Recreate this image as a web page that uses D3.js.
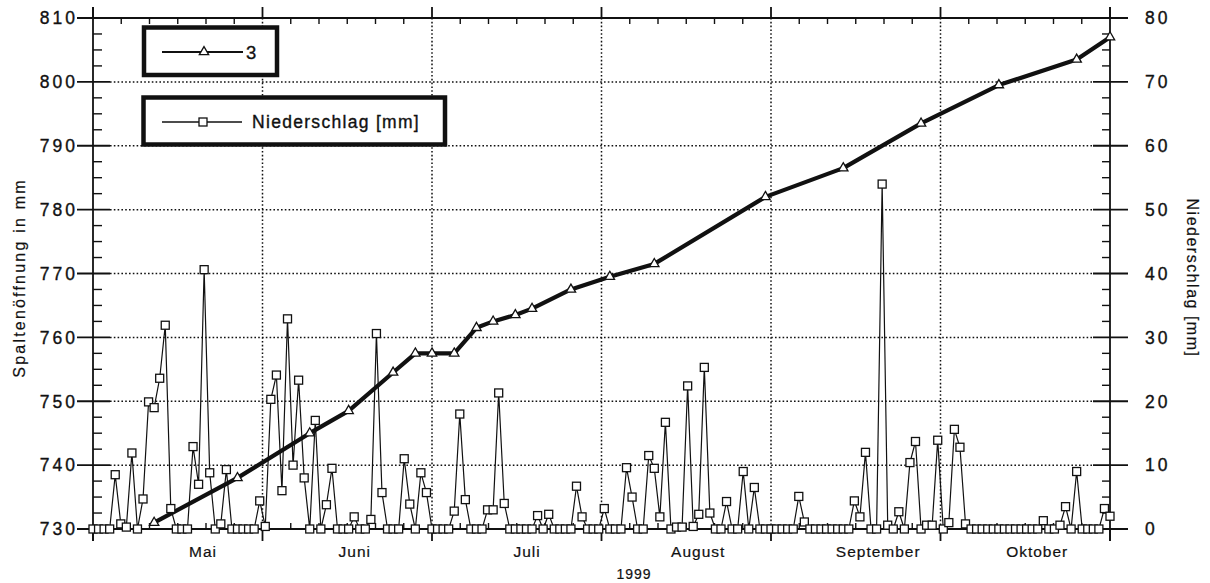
<!DOCTYPE html>
<html><head><meta charset="utf-8">
<script src="https://cdn.jsdelivr.net/npm/d3@7"></script>
<style>
body{margin:0;background:#fff}
svg{display:block}
text{font-family:"Liberation Sans",Arial,Helvetica,sans-serif;fill:#111;stroke:#111;stroke-width:0.35px}
</style>
</head><body>
<svg id="c" width="1210" height="583"></svg>
<script>
// ---------- DATA ----------
const monthNames = ["Mai","Juni","Juli","August","September","Oktober"];
const monthLabelDays = [19.8, 47.1, 78.1, 108.9, 141.3, 169.9];   // label anchor (day index since 1 May 1999)
const majorTickDays = [0, 30.5, 61, 91.5, 122, 152.5, 183];
const leftTicks = [730, 740, 750, 760, 770, 780, 790, 800, 810];
const rightTicks = [0, 10, 20, 30, 40, 50, 60, 70, 80];
const yearLabel = "1999";

// Spaltenöffnung (series "3"), day index since 1 May 1999
const growthDays   = [11, 26, 39, 46, 54, 58, 61, 65, 69, 72, 76, 79, 86, 93, 101, 121, 135, 149, 163, 177, 183];
const growthValues = [731, 738, 745, 748.5, 754.5, 757.5, 757.5, 757.5, 761.5, 762.5, 763.5, 764.5, 767.5, 769.5, 771.5, 782, 786.5, 793.5, 799.5, 803.5, 807];

// Niederschlag [mm], daily from 1 May 1999 (index 0) to 31 Oct 1999 (index 183)
const rainValues = [
  0, 0, 0, 0, 8.5, 0.8, 0.3, 11.9, 0, 4.7,
  19.9, 19.0, 23.6, 31.9, 3.2, 0, 0, 0, 12.9, 7.0,
  40.6, 8.8, 0, 0.8, 9.3, 0, 0, 0, 0, 0,
  4.4, 0.4, 20.3, 24.1, 6.0, 32.9, 10.0, 23.3, 8.0, 0,
  17.0, 0, 3.8, 9.5, 0, 0, 0, 1.9, 0, 0,
  1.5, 30.6, 5.7, 0, 0, 0, 11.0, 3.9, 0, 8.8,
  5.7, 0, 0, 0, 0, 2.8, 18.0, 4.6, 0, 0,
  0, 3.0, 3.0, 21.3, 4.0, 0, 0, 0, 0, 0,
  2.1, 0, 2.3, 0, 0, 0, 0, 6.7, 1.9, 0,
  0, 0, 3.2, 0, 0, 0, 9.6, 5.0, 0, 0,
  11.5, 9.5, 1.9, 16.7, 0, 0.3, 0.3, 22.4, 0.4, 2.3,
  25.3, 2.5, 0, 0, 4.3, 0, 0, 9.0, 0, 6.5,
  0, 0, 0, 0, 0, 0, 0, 5.1, 1.1, 0,
  0, 0, 0, 0, 0, 0, 0, 4.4, 1.9, 12.0,
  0, 0, 54.0, 0.6, 0, 2.7, 0, 10.4, 13.7, 0,
  0.6, 0.6, 13.9, 0, 1.0, 15.6, 12.8, 0.8, 0, 0,
  0, 0, 0, 0, 0, 0, 0, 0, 0, 0,
  0, 1.3, 0, 0, 0.6, 3.5, 0, 9.0, 0, 0,
  0, 0, 3.2, 2.0
];

const legendLabels = ["3", "Niederschlag  [mm]"];
const leftTitle = "Spaltenöffnung in mm";
const rightTitle = "Niederschlag [mm]";

// ---------- LAYOUT ----------
const L = 93, R = 1110, T = 18, B = 529;
const svg = d3.select("#c");
const x  = d3.scaleLinear().domain([0, 183]).range([L, R]);
const yL = d3.scaleLinear().domain([730, 810]).range([B, T]);
const yR = d3.scaleLinear().domain([0, 80]).range([B, T]);
const ink = "#111";

// grid
const grid = svg.append("g").attr("stroke", "#111").attr("stroke-width", 1.5)
  .attr("stroke-dasharray", "1.6,2.2");
grid.selectAll("line.h").data(leftTicks.filter(v => v > 730 && v < 810)).join("line")
  .attr("x1", L + 17).attr("x2", R - 17).attr("y1", d => yL(d)).attr("y2", d => yL(d));
grid.selectAll("line.v").data(majorTickDays.slice(1, -1)).join("line")
  .attr("x1", d => x(d)).attr("x2", d => x(d)).attr("y1", T).attr("y2", B);

// frame & ticks
const ax = svg.append("g").attr("stroke", ink).attr("stroke-width", 1.8);
ax.append("line").attr("x1", L).attr("x2", L).attr("y1", T - 11).attr("y2", B + 12);
ax.append("line").attr("x1", R).attr("x2", R).attr("y1", T - 11).attr("y2", B + 12);
ax.append("line").attr("x1", L).attr("x2", R).attr("y1", T).attr("y2", T);
ax.append("line").attr("x1", L).attr("x2", R).attr("y1", B).attr("y2", B);

// y major ticks
ax.selectAll("line.yl").data(leftTicks).join("line")
  .attr("x1", L - 16).attr("x2", L + 17).attr("y1", d => yL(d)).attr("y2", d => yL(d));
ax.selectAll("line.yr").data(rightTicks).join("line")
  .attr("x1", R - 17).attr("x2", R + 18).attr("y1", d => yR(d)).attr("y2", d => yR(d));
// y minor ticks
const yMinor = d3.range(732.5, 810, 2.5).filter(v => (v - 730) % 10 !== 0);
ax.selectAll("line.ylm").data(yMinor).join("line").attr("stroke-width", 1.4)
  .attr("x1", L).attr("x2", L + 9).attr("y1", d => yL(d)).attr("y2", d => yL(d));
ax.selectAll("line.yrm").data(yMinor.map(v => v - 730)).join("line").attr("stroke-width", 1.4)
  .attr("x1", R - 8).attr("x2", R).attr("y1", d => yR(d)).attr("y2", d => yR(d));
// x major ticks
ax.selectAll("line.xt").data(majorTickDays).join("line")
  .attr("x1", d => x(d)).attr("x2", d => x(d)).attr("y1", T - 11).attr("y2", T);
ax.selectAll("line.xb").data(majorTickDays).join("line")
  .attr("x1", d => x(d)).attr("x2", d => x(d)).attr("y1", B).attr("y2", B + 12);
// x minor ticks
const xMinor = [];
for (let i = 0; i < majorTickDays.length - 1; i++) {
  const a = majorTickDays[i], b = majorTickDays[i + 1];
  for (let k = 1; k < 6; k++) xMinor.push(a + (b - a) * k / 6);
}
ax.selectAll("line.xmt").data(xMinor).join("line").attr("stroke-width", 1.4)
  .attr("x1", d => x(d)).attr("x2", d => x(d)).attr("y1", T).attr("y2", T + 6);
ax.selectAll("line.xmb").data(xMinor).join("line").attr("stroke-width", 1.4)
  .attr("x1", d => x(d)).attr("x2", d => x(d)).attr("y1", B - 6).attr("y2", B);

// tick labels
svg.append("g").selectAll("text").data(leftTicks).join("text")
  .attr("x", L - 15).attr("y", d => yL(d)).attr("dy", "0.36em")
  .attr("text-anchor", "end").attr("font-size", 17.5).attr("letter-spacing", 3)
  .text(d => d);
svg.append("g").selectAll("text").data(rightTicks).join("text")
  .attr("x", R + 35).attr("y", d => yR(d)).attr("dy", "0.36em")
  .attr("text-anchor", "start").attr("font-size", 17.5).attr("letter-spacing", 3)
  .text(d => d);
svg.append("g").selectAll("text").data(monthNames).join("text")
  .attr("x", (d, i) => x(monthLabelDays[i])).attr("y", 557)
  .attr("text-anchor", "middle").attr("font-size", 15.5).attr("letter-spacing", 1)
  .attr("style", "stroke-width:0.2px").text(d => d);
svg.append("text").attr("x", 634).attr("y", 579).attr("text-anchor", "middle")
  .attr("font-size", 14).attr("letter-spacing", 1).attr("style", "stroke-width:0.2px").text(yearLabel);

// axis titles
svg.append("text").attr("transform", "translate(25,278) rotate(-90)")
  .attr("text-anchor", "middle").attr("font-size", 16).attr("letter-spacing", 2.2)
  .attr("style", "stroke-width:0.2px").text(leftTitle);
svg.append("text").attr("transform", "translate(1187,278) rotate(90)")
  .attr("text-anchor", "middle").attr("font-size", 16).attr("letter-spacing", 1.5)
  .attr("style", "stroke-width:0.2px").text(rightTitle);

// growth series
const growth = growthDays.map((d, i) => ({d, v: growthValues[i]}));
svg.append("path").datum(growth)
  .attr("d", d3.line().x(p => x(p.d)).y(p => yL(p.v)))
  .attr("fill", "none").attr("stroke", ink).attr("stroke-width", 4.2)
  .attr("stroke-linejoin", "round").attr("stroke-linecap", "round");
const tri = d3.symbol().type(d3.symbolTriangle).size(38);
svg.append("g").selectAll("path").data(growth).join("path")
  .attr("d", tri).attr("transform", p => `translate(${x(p.d)},${yL(p.v)})`)
  .attr("fill", "#fff").attr("stroke", ink).attr("stroke-width", 1.3);

// rain series
const rain = rainValues.map((v, i) => ({d: i, v}));
svg.append("path").datum(rain)
  .attr("d", d3.line().x(p => x(p.d)).y(p => yR(p.v)))
  .attr("fill", "none").attr("stroke", ink).attr("stroke-width", 1.2);
svg.append("g").selectAll("rect").data(rain).join("rect")
  .attr("x", p => x(p.d) - 4).attr("y", p => yR(p.v) - 4).attr("width", 8).attr("height", 8)
  .attr("fill", "#fff").attr("stroke", ink).attr("stroke-width", 1.3);

// legend
const lg = svg.append("g");
lg.append("rect").attr("x", 144).attr("y", 27.5).attr("width", 133).attr("height", 47.5)
  .attr("fill", "#fff").attr("stroke", ink).attr("stroke-width", 4.5);
lg.append("rect").attr("x", 143.5).attr("y", 97.5).attr("width", 301.5).attr("height", 47)
  .attr("fill", "#fff").attr("stroke", ink).attr("stroke-width", 4.5);
lg.append("line").attr("x1", 162).attr("x2", 243).attr("y1", 52).attr("y2", 52)
  .attr("stroke", ink).attr("stroke-width", 1.8);
lg.append("path").attr("d", tri).attr("transform", "translate(204,52)")
  .attr("fill", "#fff").attr("stroke", ink).attr("stroke-width", 1.3);
lg.append("text").attr("x", 246).attr("y", 52).attr("dy", "0.36em").attr("font-size", 18.5)
  .text(legendLabels[0]);
lg.append("line").attr("x1", 162).attr("x2", 242).attr("y1", 122).attr("y2", 122)
  .attr("stroke", ink).attr("stroke-width", 1.4);
lg.append("rect").attr("x", 199).attr("y", 118).attr("width", 8).attr("height", 8)
  .attr("fill", "#fff").attr("stroke", ink).attr("stroke-width", 1.3);
lg.append("text").attr("x", 252).attr("y", 122).attr("dy", "0.36em").attr("font-size", 17.5)
  .attr("letter-spacing", 1.3).text(legendLabels[1]);
</script>
</body></html>
